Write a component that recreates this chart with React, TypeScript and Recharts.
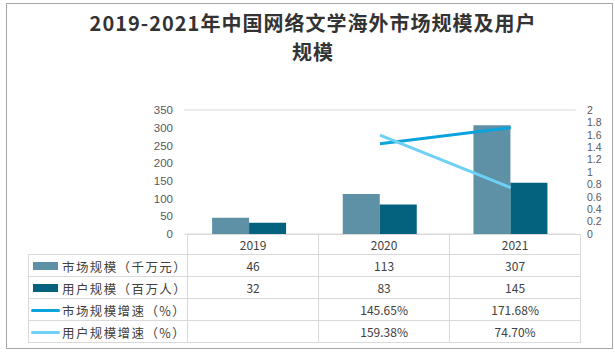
import { Bar, CartesianGrid, ComposedChart, Line, XAxis, YAxis } from "recharts";

const TITLE_LINE_1 = "2019-2021年中国网络文学海外市场规模及用户";
const TITLE_LINE_2 = "规模";

const years = ["2019", "2020", "2021"];
const marketSize = [46, 113, 307];
const userSize = [32, 83, 145];
const marketGrowth: (number | null)[] = [null, 1.4565, 1.7168];
const userGrowth: (number | null)[] = [null, 1.5938, 0.747];
const marketGrowthLabels = ["", "145.65%", "171.68%"];
const userGrowthLabels = ["", "159.38%", "74.70%"];

const leftTicks = [0, 50, 100, 150, 200, 250, 300, 350];
const rightTicks = [0, 0.2, 0.4, 0.6, 0.8, 1, 1.2, 1.4, 1.6, 1.8, 2];

const C_MARKET = "#5E90A6";
const C_USER = "#04627F";
const C_MARKET_G = "#0AA3DB";
const C_USER_G = "#6FD0F6";
const GRID = "#D9D9D9";
const FONT = '"Noto Sans CJK SC", "Noto Sans", sans-serif';
const NUM_FONT = '"Liberation Sans", Arial, sans-serif';

const data = years.map((y, i) => ({
  year: y,
  market: marketSize[i],
  user: userSize[i],
  marketG: marketGrowth[i],
  userG: userGrowth[i],
}));

const rows = [
  { name: "市场规模（千万元）", kind: "bar", color: C_MARKET, values: marketSize.map(String) },
  { name: "用户规模（百万人）", kind: "bar", color: C_USER, values: userSize.map(String) },
  { name: "市场规模增速（%）", kind: "line", color: C_MARKET_G, values: marketGrowthLabels },
  { name: "用户规模增速（%）", kind: "line", color: C_USER_G, values: userGrowthLabels },
];

const cell: React.CSSProperties = {
  border: `1px solid ${GRID}`,
  padding: 0,
  textAlign: "center",
  fontSize: 12,
  lineHeight: "14px",
  color: "#404040",
};

const titleLine: React.CSSProperties = {
  position: "absolute",
  left: 0,
  width: 626,
  textAlign: "center",
  fontSize: 20,
  lineHeight: "20px",
  letterSpacing: 1,
  fontWeight: "bold",
  color: "#333",
  whiteSpace: "nowrap",
};

export default function App() {
  return (
    <div
      style={{
        position: "absolute",
        left: 0,
        top: 0,
        width: 615,
        height: 353,
        background: "#fff",
        fontFamily: FONT,
        overflow: "hidden",
      }}
    >
      <div
        style={{
          position: "absolute",
          left: 6,
          top: 3,
          width: 605,
          height: 344,
          border: "1px solid #A6A6A6",
        }}
      />
      <div style={{ ...titleLine, top: 12.5 }}>{TITLE_LINE_1}</div>
      <div style={{ ...titleLine, top: 41.5 }}>{TITLE_LINE_2}</div>

      <div style={{ position: "absolute", left: 0, top: 0 }}>
        <ComposedChart
          width={615}
          height={353}
          data={data}
          margin={{ top: 110, right: 9, left: 154, bottom: 119 }}
          barCategoryGap="21.5%"
          barGap={0}
        >
          <CartesianGrid vertical={false} stroke={GRID} />
          <XAxis dataKey="year" hide />
          <YAxis
            yAxisId="left"
            width={30}
            domain={[0, 350]}
            ticks={leftTicks}
            interval={0}
            tickLine={false}
            axisLine={false}
            tickSize={0}
            tickMargin={11}
            tick={{ fontSize: 11.5, fill: "#595959", fontFamily: NUM_FONT }}
          />
          <YAxis
            yAxisId="right"
            orientation="right"
            width={30}
            domain={[0, 2]}
            ticks={rightTicks}
            interval={0}
            tickLine={false}
            axisLine={false}
            tickSize={0}
            tickMargin={11}
            tick={{ fontSize: 10.5, fill: "#595959", fontFamily: NUM_FONT }}
          />
          <Bar yAxisId="left" dataKey="market" fill={C_MARKET} isAnimationActive={false} />
          <Bar yAxisId="left" dataKey="user" fill={C_USER} isAnimationActive={false} />
          <Line
            yAxisId="right"
            dataKey="marketG"
            stroke={C_MARKET_G}
            strokeWidth={3}
            dot={false}
            type="linear"
            isAnimationActive={false}
          />
          <Line
            yAxisId="right"
            dataKey="userG"
            stroke={C_USER_G}
            strokeWidth={3}
            dot={false}
            type="linear"
            isAnimationActive={false}
          />
        </ComposedChart>
      </div>

      <table
        style={{
          position: "absolute",
          left: 28,
          top: 234,
          borderCollapse: "collapse",
          tableLayout: "fixed",
          fontFamily: FONT,
        }}
      >
        <colgroup>
          <col style={{ width: 156 }} />
          <col style={{ width: 131 }} />
          <col style={{ width: 131 }} />
          <col style={{ width: 131 }} />
        </colgroup>
        <tbody>
          <tr style={{ height: 20 }}>
            <td style={{ ...cell, border: "none" }} />
            {years.map((y) => (
              <td key={y} style={cell}>
                {y}
              </td>
            ))}
          </tr>
          {rows.map((r) => (
            <tr key={r.name} style={{ height: 22 }}>
              <td
                style={{
                  ...cell,
                  textAlign: "left",
                  whiteSpace: "nowrap",
                  fontSize: 12.5,
                  letterSpacing: 1.4,
                  overflow: "hidden",
                }}
              >
                <span
                  style={{
                    display: "inline-block",
                    verticalAlign: "middle",
                    marginLeft: r.kind === "bar" ? 4 : 2,
                    marginRight: r.kind === "bar" ? 4 : 2,
                    width: r.kind === "bar" ? 25 : 29,
                    height: r.kind === "bar" ? 8 : 3,
                    background: r.color,
                    borderRadius: r.kind === "bar" ? 0 : 2,
                  }}
                />
                <span style={{ verticalAlign: "middle" }}>{r.name}</span>
              </td>
              {r.values.map((v, i) => (
                <td key={i} style={cell}>
                  {v}
                </td>
              ))}
            </tr>
          ))}
        </tbody>
      </table>
    </div>
  );
}
